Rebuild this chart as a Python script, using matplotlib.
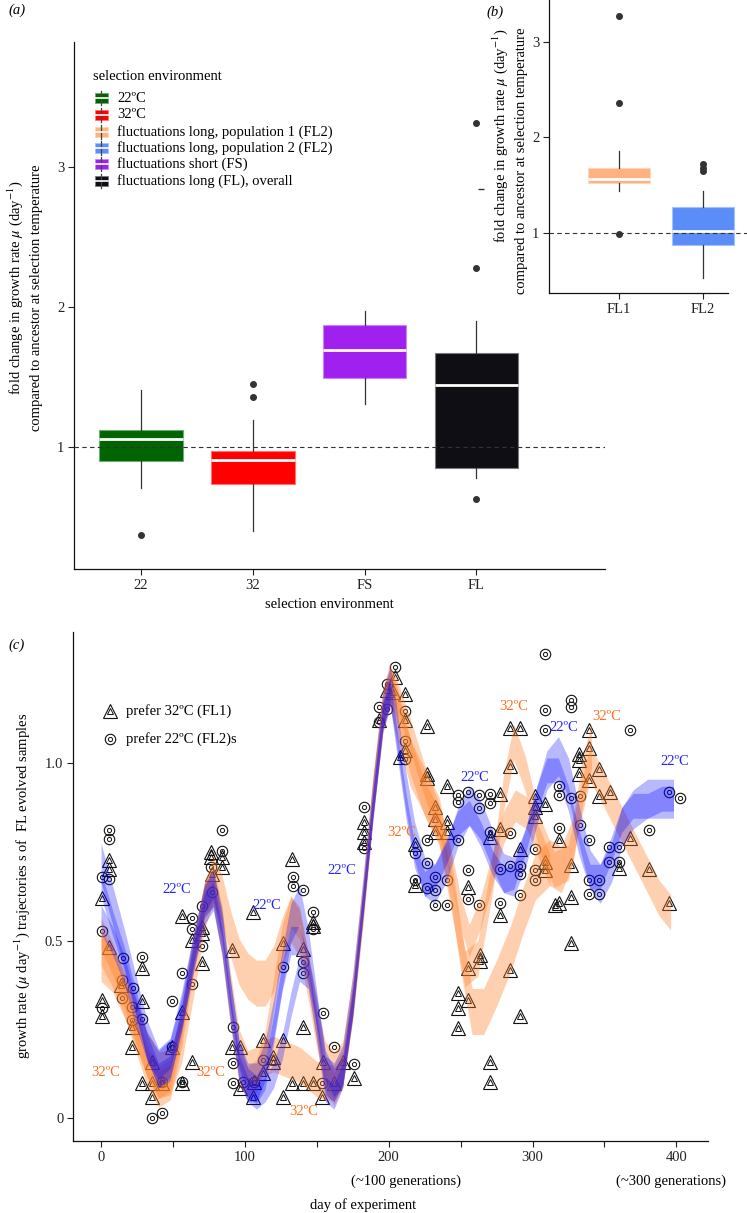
import matplotlib
matplotlib.use("Agg")
import matplotlib.pyplot as plt
from matplotlib.patches import Rectangle
from matplotlib.lines import Line2D
from matplotlib.colors import to_rgb
import matplotlib.transforms as mtransforms

plt.rcParams['font.family'] = ['Liberation Serif', 'DejaVu Serif']
plt.rcParams['mathtext.fontset'] = 'stix'
plt.rcParams['font.size'] = 10

# ------------------------------------------------------------------ data
# panel (a)
a_categories = ['22', '32', 'FS', 'FL']
a_median = [1.06, 0.91, 1.69, 1.44]
a_q1 = [0.90, 0.74, 1.49, 0.85]
a_q3 = [1.12, 0.97, 1.87, 1.67]
a_whisker_low = [0.71, 0.40, 1.31, 0.78]
a_whisker_high = [1.41, 1.19, 1.97, 1.90]
a_outliers = [[0.37], [1.45, 1.36], [], [3.31, 2.28, 0.63]]
a_colors = ['#006400', '#FF0000', '#A020F0', '#0E0E14']

legend_title = 'selection environment'
legend_labels = ['22ºC', '32ºC',
                 'fluctuations long, population 1 (FL2)',
                 'fluctuations long, population 2 (FL2)',
                 'fluctuations short (FS)',
                 'fluctuations long (FL), overall']
legend_colors = ['#006400', '#FF0000', '#FFB27F', '#5B8DF9', '#A020F0', '#0E0E14']

# panel (b)
b_categories = ['FL1', 'FL2']
b_median = [1.56, 1.02]
b_q1 = [1.52, 0.87]
b_q3 = [1.68, 1.27]
b_whisker_low = [1.44, 0.53]
b_whisker_high = [1.86, 1.44]
b_outliers = [[3.27, 2.36, 0.99], [1.72, 1.68, 1.65]]
b_colors = ['#FFB27F', '#5B8DF9']

# panel (c) points: prefer 32ºC (FL1) triangles
fl1_day = [5.6, 5.6, 0.5, 5.6, 28.8, 14.0, 0.5, 0.5, 28.8, 21.3, 21.3, 56.6, 35.7, 28.4, 35.7,
           42.7, 35.7, 49.6, 63.5, 56.6, 56.6, 63.5, 70.5, 70.5, 70.5, 76.7, 76.7, 83.9, 83.9,
           77.4, 91.0, 91.0, 96.7, 96.7,
           112.5, 126.4, 106.0, 112.5, 119.9, 119.9, 105.9, 126.4, 132.7, 140.4, 147.3, 161.7,
           153.6, 168.2, 175.6, 154.3, 140.4, 140.4, 147.3, 147.3, 126.4, 132.7, 105.9, 183.0,
           183.0, 183.0, 193.0, 198.8, 204.6, 208.0, 203.0,
           211.6, 211.6, 211.6, 226.6, 226.6, 226.6, 232.4, 232.4, 240.6, 232.4, 240.6, 240.6,
           218.5, 218.5, 284.2, 291.6, 284.2, 277.7, 270.7, 277.7, 255.2, 277.7, 291.6, 302.0,
           302.0, 302.0, 308.5, 308.5, 308.5, 263.5, 263.5, 255.2, 248.2, 255.2, 248.2, 248.2,
           284.2, 291.6, 270.7, 270.7, 315.6,
           339.1, 339.1, 332.2, 332.2, 346.0, 332.2, 339.1, 353.7, 346.0, 318.2, 326.4, 318.2,
           326.4, 326.4, 367.6, 360.0, 380.9, 394.8]
fl1_rate = [0.727, 0.703, 0.620, 0.481, 0.422, 0.375, 0.332, 0.287, 0.330, 0.257, 0.199, 0.300,
            0.159, 0.098, 0.098, 0.098, 0.060, 0.199, 0.159, 0.098, 0.568, 0.501, 0.539, 0.520,
            0.437, 0.750, 0.736, 0.736, 0.708, 0.689, 0.473, 0.199, 0.199, 0.084,
            0.220, 0.220, 0.102, 0.126, 0.173, 0.159, 0.060, 0.060, 0.098, 0.098, 0.098, 0.098,
            0.060, 0.159, 0.112, 0.159, 0.257, 0.475, 0.541, 0.553, 0.492, 0.729, 0.581, 0.835,
            0.807, 0.779, 1.121, 1.206, 1.243, 1.018, 1.200,
            1.196, 1.121, 1.037, 1.104, 0.971, 0.957, 0.877, 0.844, 0.835, 0.805, 0.805, 0.935,
            0.772, 0.656, 1.098, 1.098, 0.992, 0.913, 0.792, 0.814, 0.652, 0.572, 0.757, 0.907,
            0.877, 0.852, 0.885, 0.722, 0.700, 0.459, 0.443, 0.424, 0.353, 0.332, 0.309, 0.253,
            0.417, 0.287, 0.159, 0.100, 0.600,
            1.095, 1.044, 1.027, 1.010, 0.985, 0.971, 0.952, 0.919, 0.907, 0.783, 0.714, 0.605,
            0.622, 0.492, 0.788, 0.705, 0.703, 0.605]

# prefer 22ºC (FL2) circles
fl2_day = [5.6, 5.6, 0.5, 5.6, 0.5, 15.5, 28.8, 14.4, 22.5, 14.8, 21.3, 0.5, 21.3, 28.8, 49.6,
           56.6, 63.5, 70.5, 63.5, 63.5, 70.5, 77.4, 84.4, 84.4, 76.7, 91.4, 91.4, 91.4, 49.6,
           42.7, 35.3, 42.7, 56.6,
           126.4, 140.4, 140.4, 147.3, 147.3, 133.5, 133.5, 140.4, 154.3, 161.7, 175.6, 112.5,
           106.0, 99.0, 153.6, 183.0, 183.0, 193.0, 193.0, 198.8, 204.6, 198.8,
           211.6, 211.6, 211.6, 308.5, 308.5, 308.5, 248.2, 248.2, 255.2, 262.6, 262.6, 270.7,
           270.7, 226.6, 218.5, 248.2, 226.6, 232.4, 240.6, 226.6, 232.4, 232.4, 240.6, 255.2,
           255.2, 262.6, 270.7, 284.6, 277.7, 284.6, 291.6, 291.6, 291.6, 277.7, 302.0, 302.0,
           302.0, 218.5,
           326.4, 326.4, 367.6, 318.2, 318.2, 326.4, 332.9, 318.2, 332.9, 339.1, 353.0, 360.0,
           353.0, 360.0, 339.1, 346.0, 339.1, 346.0, 380.9, 394.8, 402.2]
fl2_rate = [0.811, 0.786, 0.680, 0.674, 0.528, 0.450, 0.454, 0.389, 0.365, 0.337, 0.314, 0.309,
            0.276, 0.279, 0.330, 0.408, 0.377, 0.485, 0.534, 0.563, 0.598, 0.636, 0.813, 0.753,
            0.708, 0.255, 0.156, 0.098, 0.201, 0.100, 0.000, 0.013, 0.100,
            0.426, 0.440, 0.408, 0.581, 0.534, 0.678, 0.654, 0.644, 0.297, 0.199, 0.152, 0.163,
            0.100, 0.100, 0.098, 0.877, 0.760, 1.159, 1.116, 1.224, 1.271, 1.154,
            1.146, 1.062, 1.013, 1.309, 1.149, 1.093, 0.910, 0.891, 0.919, 0.910, 0.874, 0.913,
            0.889, 0.785, 0.747, 0.785, 0.719, 0.680, 0.672, 0.647, 0.642, 0.600, 0.600, 0.700,
            0.616, 0.600, 0.807, 0.804, 0.703, 0.710, 0.710, 0.687, 0.628, 0.605, 0.758, 0.700,
            0.670, 0.670,
            1.177, 1.159, 1.093, 0.936, 0.910, 0.903, 0.907, 0.818, 0.825, 0.785, 0.764, 0.764,
            0.722, 0.722, 0.670, 0.670, 0.630, 0.630, 0.811, 0.919, 0.903]

# smoothed trajectories (ribbon centres)
early_days = [0, 8, 16, 24, 32, 40, 48, 56, 64, 72, 78, 84, 90, 96, 102, 108, 114, 120, 126,
              132, 138, 144, 150, 156, 162, 168, 175, 182, 189, 196, 201]
b1_early = [0.72, 0.60, 0.48, 0.35, 0.22, 0.14, 0.17, 0.30, 0.46, 0.60, 0.64, 0.52, 0.33, 0.16,
            0.10, 0.10, 0.16, 0.28, 0.42, 0.55, 0.60, 0.48, 0.30, 0.12, 0.10, 0.15, 0.35, 0.62,
            0.90, 1.15, 1.22]
b2_early = [0.66, 0.55, 0.45, 0.33, 0.20, 0.12, 0.14, 0.28, 0.45, 0.60, 0.63, 0.50, 0.30, 0.14,
            0.08, 0.06, 0.08, 0.12, 0.20, 0.32, 0.42, 0.40, 0.25, 0.08, 0.06, 0.12, 0.32, 0.60,
            0.88, 1.14, 1.20]
b3_early = [0.56, 0.50, 0.42, 0.30, 0.20, 0.15, 0.18, 0.30, 0.47, 0.62, 0.66, 0.55, 0.35, 0.18,
            0.10, 0.08, 0.12, 0.25, 0.40, 0.50, 0.50, 0.42, 0.30, 0.15, 0.10, 0.13, 0.33, 0.60,
            0.88, 1.13, 1.20]
o1_early = [0.48, 0.42, 0.34, 0.24, 0.14, 0.08, 0.10, 0.25, 0.45, 0.62, 0.66, 0.55, 0.36, 0.20,
            0.14, 0.15, 0.17, 0.18, 0.17, 0.16, 0.15, 0.13, 0.11, 0.10, 0.10, 0.14, 0.33, 0.60,
            0.90, 1.15, 1.22]
o2_early = [0.45, 0.42, 0.35, 0.27, 0.18, 0.12, 0.13, 0.22, 0.40, 0.60, 0.67, 0.62, 0.52, 0.44,
            0.40, 0.38, 0.38, 0.42, 0.50, 0.56, 0.52, 0.40, 0.26, 0.15, 0.12, 0.15, 0.34, 0.60,
            0.90, 1.15, 1.22]
o3_early = [0.52, 0.45, 0.36, 0.26, 0.16, 0.10, 0.12, 0.27, 0.47, 0.62, 0.64, 0.50, 0.30, 0.14,
            0.10, 0.12, 0.20, 0.35, 0.50, 0.58, 0.55, 0.42, 0.26, 0.12, 0.08, 0.13, 0.33, 0.60,
            0.90, 1.15, 1.22]

o1_late_days = [205, 215, 225, 235, 245, 253, 262, 272, 280, 287, 295, 305, 315, 325, 333, 340,
                348, 358, 368, 378, 388, 396]
o1_late = [1.18, 1.02, 0.90, 0.82, 0.60, 0.42, 0.45, 0.68, 0.92, 1.06, 0.97, 0.80, 0.70, 0.72,
           0.88, 1.00, 0.94, 0.86, 0.78, 0.70, 0.62, 0.58]
o2_late_days = [205, 215, 225, 235, 243, 250, 258, 266, 275, 285, 293, 302, 312, 320, 328, 335, 341]
o2_late = [1.15, 1.00, 0.92, 0.84, 0.68, 0.48, 0.30, 0.30, 0.38, 0.48, 0.58, 0.68, 0.72, 0.70,
           0.78, 0.95, 1.05]
o3_late_days = [205, 215, 225, 235, 243, 250, 256, 264, 272, 280, 288, 296, 304, 312]
o3_late = [1.20, 1.08, 0.95, 0.84, 0.72, 0.58, 0.50, 0.58, 0.70, 0.82, 0.88, 0.86, 0.78, 0.70]
b_late_days = [205, 212, 218, 225, 232, 240, 248, 256, 264, 272, 280, 287, 295, 303, 310, 318,
               325, 332, 340, 347, 355, 362, 370, 380, 390, 398]
b1_late = [1.12, 0.92, 0.78, 0.68, 0.66, 0.72, 0.82, 0.88, 0.84, 0.76, 0.69, 0.68, 0.76, 0.88,
           0.98, 1.02, 0.96, 0.83, 0.70, 0.66, 0.72, 0.82, 0.87, 0.90, 0.90, 0.90]
b2_late = [1.08, 0.88, 0.74, 0.66, 0.68, 0.75, 0.83, 0.86, 0.80, 0.72, 0.67, 0.68, 0.78, 0.90,
           0.98, 0.98, 0.90, 0.78, 0.68, 0.68, 0.76, 0.84, 0.88, 0.88, 0.90, 0.90]

# temperature annotations (day, rate, text)
annot_22 = [(52.9, 0.645), (115.3, 0.600), (167.5, 0.699), (259.5, 0.959), (322.0, 1.102),
            (398.6, 1.004)]
annot_32 = [(3.3, 0.128), (76.4, 0.128), (141.1, 0.018), (208.7, 0.805), (286.9, 1.159),
            (351.3, 1.132)]

# ------------------------------------------------------------------ figure
W, H = 747, 1213
fig = plt.figure(figsize=(W / 100, H / 100), dpi=100)
fig.patch.set_facecolor('white')


def axes_px(l, t, r, b):
    return fig.add_axes([l / W, 1 - b / H, (r - l) / W, (b - t) / H])


def fx(x):
    return x / W


def fy(y):
    return 1 - y / H


def lighten(c, f=0.45):
    r, g, b = to_rgb(c)
    return (r + (1 - r) * f, g + (1 - g) * f, b + (1 - b) * f)


def style_axes(ax):
    for s in ['top', 'right']:
        ax.spines[s].set_visible(False)
    for s in ['left', 'bottom']:
        ax.spines[s].set_linewidth(0.9)
        ax.spines[s].set_color('#111111')
    ax.tick_params(axis='both', direction='out', length=4.5, width=0.8, color='#222222',
                   labelsize=10.5, labelcolor='#222222', pad=2.5)


def draw_boxes(ax, med, q1, q3, lo, hi, fl, colors, width):
    stats = []
    for i in range(len(med)):
        stats.append(dict(med=med[i], q1=q1[i], q3=q3[i], whislo=lo[i], whishi=hi[i],
                          fliers=fl[i]))
    res = ax.bxp(stats, positions=list(range(1, len(med) + 1)), widths=width,
                 patch_artist=True, showcaps=False,
                 boxprops=dict(linewidth=0.8),
                 medianprops=dict(color='white', linewidth=2.0),
                 whiskerprops=dict(color='#333333', linewidth=0.9),
                 flierprops=dict(marker='o', markerfacecolor='#333333',
                                 markeredgecolor='#333333', markersize=4, linestyle='none'))
    for box, c in zip(res['boxes'], colors):
        box.set_facecolor(c)
        box.set_edgecolor(lighten(c))
    return res


# ---------------- panel (a)
axa = axes_px(74, 42, 605, 569)
style_axes(axa)
draw_boxes(axa, a_median, a_q1, a_q3, a_whisker_low, a_whisker_high, a_outliers, a_colors, 0.745)
axa.plot([4.04], [2.84], marker='_', color='#333333', markersize=5, linestyle='none')
axa.axhline(1, color='#333333', lw=0.8, ls=(0, (4, 3)), zorder=3)
axa.set_xlim(0.4, 5.15)
axa.set_ylim(0.13, 3.89)
axa.set_yticks([1, 2, 3])
axa.set_yticklabels(['1', '2', '3'])
axa.set_xticks([1, 2, 3, 4])
axa.set_xticklabels(a_categories)

fig.text(fx(329), fy(604), 'selection environment', ha='center', va='center', fontsize=10.5)
fig.text(fx(15), fy(288), r'fold change in growth rate $\mu$ (day$^{-1}$)', rotation=90,
         ha='center', va='center', fontsize=10.5)
fig.text(fx(37), fy(298), 'compared to ancestor at selection temperature', rotation=90,
         ha='center', va='center', fontsize=10.5)
fig.text(fx(17), fy(10), '(a)', ha='center', va='center', fontsize=10.5, style='italic')

# legend of panel (a)
fig.text(fx(93), fy(76), legend_title, ha='left', va='center', fontsize=10.5)
leg_y = [98, 115, 132, 148, 164, 181]
for yy, lab, col in zip(leg_y, legend_labels, legend_colors):
    fig.add_artist(Line2D([fx(101), fx(101)], [fy(yy - 7), fy(yy + 7)], color='#444444',
                          lw=0.9, transform=fig.transFigure))
    fig.add_artist(Rectangle((fx(94.5), fy(yy + 4.5)), 13 / W, 9 / H, facecolor=col,
                             edgecolor=lighten(col), lw=0.6, transform=fig.transFigure))
    fig.add_artist(Line2D([fx(94.5), fx(107.5)], [fy(yy), fy(yy)], color='white',
                          lw=1.2, transform=fig.transFigure))
    fig.text(fx(117), fy(yy), lab, ha='left', va='center', fontsize=10.5)

# ---------------- panel (b)
axb = axes_px(549, 0, 747, 293)
style_axes(axb)
axb.patch.set_alpha(0)
draw_boxes(axb, b_median, b_q1, b_q3, b_whisker_low, b_whisker_high, b_outliers, b_colors, 0.74)
axb.axhline(1, color='#333333', lw=0.8, ls=(0, (4, 3)), zorder=3)
axb.set_xlim(1 - 70 / 84, 2 + 44 / 84)
axb.spines['bottom'].set_bounds(1 - 70 / 84, 2 + 25 / 84)
axb.set_ylim(0.37, 3.44)
axb.set_yticks([1, 2, 3])
axb.set_yticklabels(['1', '2', '3'])
axb.set_xticks([1, 2])
axb.set_xticklabels(b_categories)
fig.text(fx(500), fy(136), r'fold change in growth rate $\mu$ (day$^{-1}$)', rotation=90,
         ha='center', va='center', fontsize=10.5)
fig.text(fx(522), fy(161), 'compared to ancestor at selection temperature', rotation=90,
         ha='center', va='center', fontsize=10.5)
fig.text(fx(495), fy(12), '(b)', ha='center', va='center', fontsize=10.5, style='italic')

# ---------------- panel (c)
axc = axes_px(73, 632, 708, 1141)
style_axes(axc)
axc.set_xlim(-19.5, 422)
axc.set_ylim(-0.065, 1.37)

edge = '#111111'
axc.plot(fl1_day, fl1_rate, linestyle='none', marker='^', markersize=9.5, markerfacecolor='none',
         markeredgecolor=edge, markeredgewidth=0.8, zorder=2)
axc.plot(fl1_day, fl1_rate, linestyle='none', marker='^', markersize=4, markerfacecolor='none',
         markeredgecolor=edge, markeredgewidth=0.7, zorder=2)
axc.plot(fl2_day, fl2_rate, linestyle='none', marker='o', markersize=7.5, markerfacecolor='none',
         markeredgecolor=edge, markeredgewidth=0.8, zorder=2)
axc.plot(fl2_day, fl2_rate, linestyle='none', marker='o', markersize=3, markerfacecolor='none',
         markeredgecolor=edge, markeredgewidth=0.7, zorder=2)

ORANGE = '#FF7F24'
BLUE = '#0000FF'
ribbons = [
    (early_days + o1_late_days, o1_early + o1_late, 0.050, ORANGE, 0.36),
    (early_days + o2_late_days, o2_early + o2_late, 0.065, ORANGE, 0.36),
    (early_days + o3_late_days, o3_early + o3_late, 0.045, ORANGE, 0.36),
    (early_days + b_late_days, b1_early + b1_late, 0.055, BLUE, 0.28),
    (early_days + b_late_days, b2_early + b2_late, 0.035, BLUE, 0.28),
    (early_days, b3_early, 0.040, BLUE, 0.28),
]
for d, c, hw, col, al in ribbons:
    axc.fill_between(d, [v - hw for v in c], [v + hw for v in c], color=col, alpha=al, lw=0,
                     zorder=3)

for (dx, vy) in annot_22:
    axc.text(dx, vy, '22ºC', color='#2222FF', ha='center', va='center', fontsize=10.5, zorder=5)
for (dx, vy) in annot_32:
    axc.text(dx, vy, '32ºC', color='#FF6E1E', ha='center', va='center', fontsize=10.5, zorder=5)

axc.set_yticks([0, 0.5, 1.0])
axc.set_yticklabels(['0', '0.5', '1.0'])
axc.set_xticks([0, 50, 100, 150, 200, 250, 300, 350, 400])
axc.set_xticklabels(['0', '', '100', '', '200', '', '300', '', '400'])

trans = mtransforms.blended_transform_factory(axc.transData, fig.transFigure)
axc.text(212, fy(1181), '(~100 generations)', transform=trans, ha='center', va='center',
         fontsize=10.5)
axc.text(396, fy(1181), '(~300 generations)', transform=trans, ha='center', va='center',
         fontsize=10.5)
fig.text(fx(363), fy(1205), 'day of experiment', ha='center', va='center', fontsize=10.5)
fig.text(fx(22), fy(886),
         r'growth rate ($\mu$ day$^{-1}$) trajectories s of  FL evolved samples',
         rotation=90, ha='center', va='center', fontsize=10.5)
fig.text(fx(17), fy(645), '(c)', ha='center', va='center', fontsize=10.5, style='italic')

# legend of panel (c)
for yy, mk, big, small, lab in [(711, '^', 9.5, 4, 'prefer 32ºC (FL1)'),
                                (739, 'o', 7.5, 3, 'prefer 22ºC (FL2)s')]:
    for ms, mw in [(big, 0.8), (small, 0.7)]:
        fig.add_artist(Line2D([fx(110)], [fy(yy)], marker=mk, markersize=ms,
                              markerfacecolor='none', markeredgecolor=edge,
                              markeredgewidth=mw, linestyle='none', transform=fig.transFigure))
    fig.text(fx(126), fy(yy), lab, ha='left', va='center', fontsize=10.5)

fig.savefig('out.png', dpi=100, facecolor='white')
